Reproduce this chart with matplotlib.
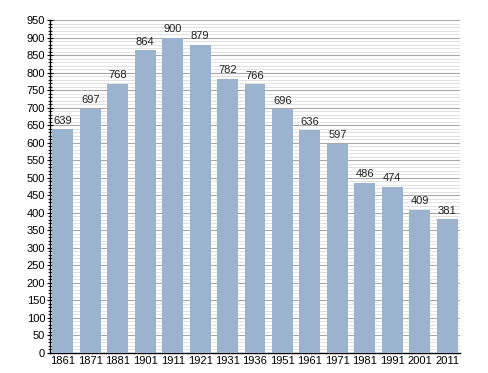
import matplotlib
matplotlib.use("Agg")
import matplotlib.pyplot as plt
import numpy as np
from matplotlib.ticker import MultipleLocator

years = ["1861", "1871", "1881", "1901", "1911", "1921", "1931", "1936",
         "1951", "1961", "1971", "1981", "1991", "2001", "2011"]
population = [639, 697, 768, 864, 900, 879, 782, 766, 696, 636, 597, 486, 474, 409, 381]

plt.rcParams['font.family'] = ['Liberation Sans', 'DejaVu Sans']

fig = plt.figure(figsize=(4.88, 3.73), dpi=100)
ax = fig.add_axes([50/488, 20/373, 410/488, 333/373])

x = np.arange(len(years))
ax.bar(x, population, width=0.76, color="#9bb3cf", zorder=3)
for xi, v in zip(x, population):
    ax.text(xi, v + 10, str(v), ha="center", va="bottom", fontsize=8, color="#222222", zorder=4)

ax.set_xlim(-0.47, len(years) - 0.53)
ax.set_ylim(0, 950)
ax.yaxis.set_major_locator(MultipleLocator(50))
ax.yaxis.set_minor_locator(MultipleLocator(10))
ax.grid(axis="y", which="major", color="#a8a8a8", linewidth=0.8, zorder=1)
ax.grid(axis="y", which="minor", color="#dcdcdc", linewidth=0.6, zorder=1)
ax.set_xticks(x)
ax.set_xticklabels(years)
ax.tick_params(axis="x", length=0, labelsize=8, pad=2)
ax.tick_params(axis="y", which="major", length=5, labelsize=8, pad=1, direction="inout")
ax.tick_params(axis="y", which="minor", length=3, direction="inout")
for s in ["top", "right"]:
    ax.spines[s].set_visible(False)
ax.spines["left"].set_linewidth(1.0)
ax.spines["bottom"].set_linewidth(1.0)

fig.savefig("out.png", dpi=100)
